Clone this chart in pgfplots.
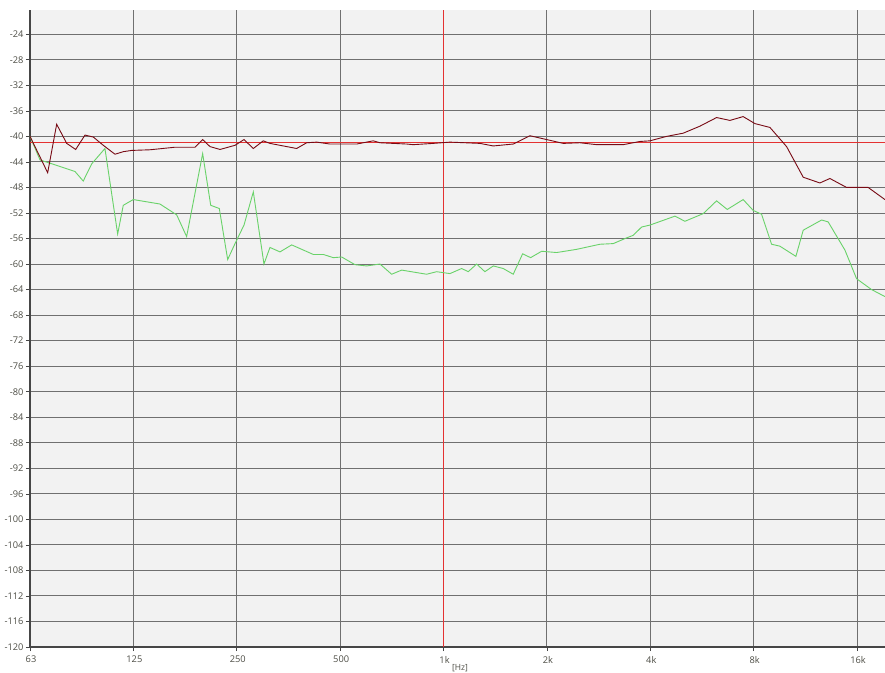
\documentclass[border=0pt]{standalone}
\usepackage{fontspec}
\setmainfont{Open Sans}
\usepackage{pgfplots}
\usepackage{pgfplotstable}
\pgfplotsset{compat=1.18}

\definecolor{plotbg}{RGB}{242,242,242}
\definecolor{gridc}{RGB}{112,112,112}
\definecolor{axisc}{RGB}{70,70,70}
\definecolor{labc}{RGB}{78,78,70}
\definecolor{refred}{RGB}{228,50,50}
\definecolor{darkred}{RGB}{120,10,20}
\definecolor{lgreen}{RGB}{105,210,105}

% x = octaves above 62.5 Hz (0 = 63, 4 = 1k, 8 = 16k), y = level in dB
\pgfplotstableread{
oct db
0.000 -40.0
0.171 -45.7
0.258 -38.1
0.355 -41.1
0.442 -42.05
0.532 -39.8
0.612 -40.1
0.709 -41.4
0.822 -42.8
0.902 -42.4
0.984 -42.2
1.161 -42.1
1.402 -41.7
1.596 -41.7
1.670 -40.5
1.741 -41.6
1.838 -42.05
1.983 -41.4
2.070 -40.5
2.160 -41.9
2.256 -40.7
2.321 -41.1
2.450 -41.5
2.579 -41.9
2.676 -41.0
2.773 -40.9
2.901 -41.2
3.160 -41.2
3.320 -40.7
3.385 -41.0
3.643 -41.2
3.707 -41.3
3.900 -41.1
4.062 -40.9
4.352 -41.1
4.481 -41.5
4.674 -41.2
4.836 -39.9
4.997 -40.5
5.158 -41.1
5.319 -41.0
5.481 -41.3
5.738 -41.3
5.899 -40.8
5.996 -40.7
6.158 -40.0
6.318 -39.5
6.480 -38.4
6.641 -37.05
6.770 -37.5
6.898 -36.9
7.012 -38.0
7.157 -38.6
7.318 -41.6
7.479 -46.4
7.640 -47.3
7.737 -46.6
7.898 -48.0
8.107 -48.0
8.269 -49.9
}\redcurve

\pgfplotstableread{
oct db
0.000 -40.0
0.097 -43.7
0.193 -44.2
0.435 -45.5
0.515 -47.0
0.597 -44.3
0.725 -41.9
0.848 -55.3
0.902 -50.8
0.999 -49.9
1.257 -50.6
1.419 -52.3
1.515 -55.7
1.670 -42.7
1.748 -50.8
1.831 -51.3
1.912 -59.3
1.983 -56.8
2.070 -53.9
2.160 -48.7
2.263 -60.0
2.321 -57.4
2.418 -58.1
2.531 -57.0
2.740 -58.5
2.837 -58.5
2.933 -59.0
3.015 -58.9
3.143 -60.1
3.256 -60.3
3.385 -60.0
3.498 -61.6
3.595 -60.95
3.837 -61.6
3.933 -61.2
4.062 -61.5
4.175 -60.7
4.239 -61.2
4.320 -60.0
4.400 -61.2
4.481 -60.3
4.577 -60.7
4.674 -61.6
4.765 -58.4
4.842 -59.0
4.949 -58.0
5.094 -58.2
5.287 -57.7
5.513 -56.9
5.641 -56.8
5.771 -55.9
5.835 -55.5
5.916 -54.2
5.996 -53.9
6.238 -52.5
6.335 -53.3
6.512 -52.1
6.641 -50.1
6.744 -51.45
6.898 -49.9
6.995 -51.6
7.076 -52.2
7.173 -56.9
7.253 -57.2
7.408 -58.8
7.479 -54.7
7.657 -53.1
7.720 -53.4
7.882 -57.8
7.995 -62.3
8.140 -64.0
8.269 -65.1
}\greencurve

\begin{document}
\begin{tikzpicture}
\path[use as bounding box, fill=white] (-30bp,-26bp) rectangle (855bp,647bp);
\begin{axis}[
  at={(0,0)}, anchor=south west,
  scale only axis, width=855bp, height=637bp,
  xmin=0, xmax=8.27, ymin=-120, ymax=-20.2,
  clip mode=individual,
  axis lines=left,
  axis line style={-},
  x axis line style={axisc, line width=1.2bp},
  y axis line style={axisc, line width=1.8bp},
  axis background/.style={fill=plotbg},
  xtick={0,...,8},
  xticklabels={63,125,250,500,1k,2k,4k,8k,16k},
  ytick={-120,-116,...,-24},
  grid=major,
  major grid style={gridc, line width=0.9bp},
  tick align=outside, major tick length=4bp,
  tick style={axisc, line width=0.6bp},
  ticklabel style={font=\fontsize{9.3}{10}\selectfont, text=labc},
  yticklabel style={xshift=1bp},
  xticklabel style={yshift=-1.5bp, xshift=1bp},
  /pgf/number format/assume math mode=true,
]
\addplot[refred, line width=0.9bp] coordinates {(0,-41) (8.27,-41)};
\addplot[refred, line width=0.9bp] coordinates {(4,-120) (4,-20.2)};
\addplot[lgreen, line width=0.9bp] table[x=oct, y=db] {\greencurve};
\addplot[darkred, line width=0.9bp] table[x=oct, y=db] {\redcurve};
\node[font=\fontsize{8.5}{9}\selectfont, text=labc] at (axis cs:4.16,-120) [yshift=-21bp] {[Hz]};
\end{axis}
\end{tikzpicture}
\end{document}
